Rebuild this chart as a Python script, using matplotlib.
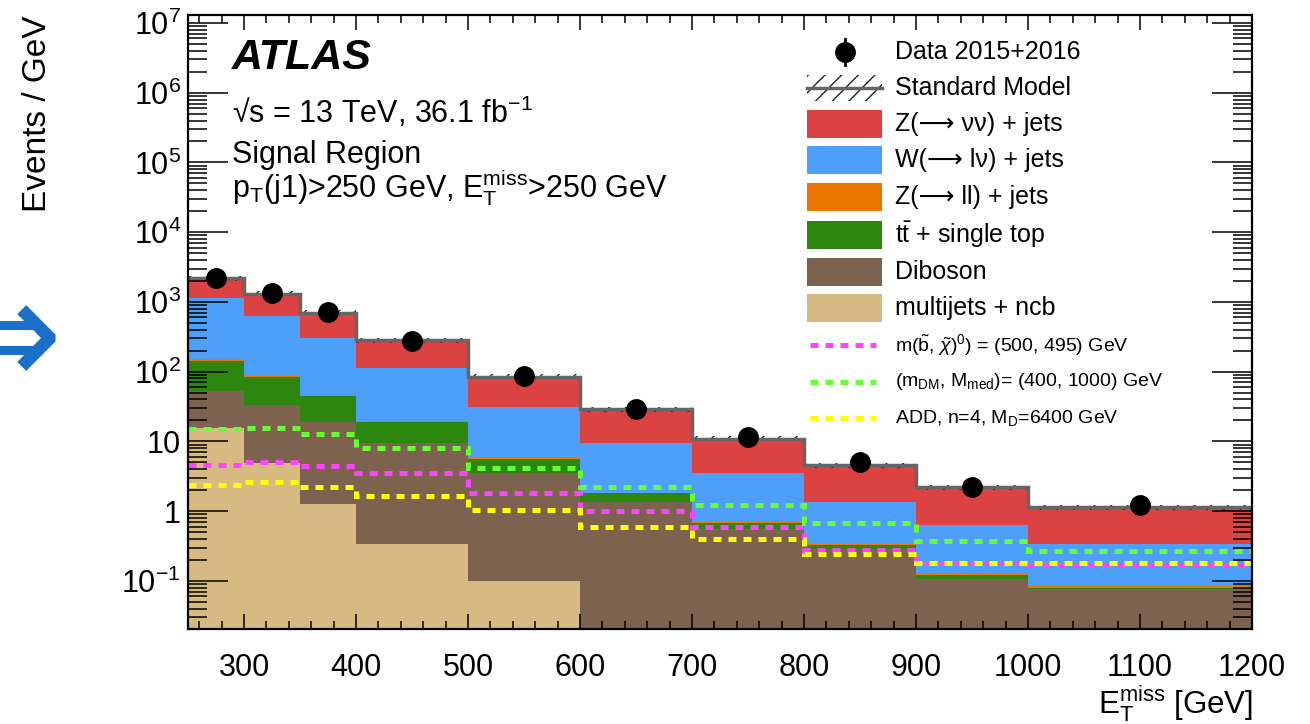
import numpy as np
import matplotlib
matplotlib.use("Agg")
import matplotlib.pyplot as plt
from matplotlib.patches import Rectangle
from matplotlib.ticker import FixedLocator, FuncFormatter

plt.rcParams["font.family"] = ["Liberation Sans", "DejaVu Sans"]
plt.rcParams["mathtext.fontset"] = "custom"
plt.rcParams["mathtext.rm"] = "Liberation Sans"
plt.rcParams["mathtext.it"] = "Liberation Sans:italic"
plt.rcParams["mathtext.bf"] = "Liberation Sans:bold"
plt.rcParams["hatch.linewidth"] = 1.0

# E_T^miss bins [GeV]
edges = [250, 300, 350, 400, 500, 600, 700, 800, 900, 1000, 1200]

# backgrounds, events / GeV (bottom of stack first)
multijet = [15.7, 4.9, 1.26, 0.333, 0.10, 0.01, 0.01, 0.01, 0.01, 0.01]
diboson = [36.8, 28.1, 17.8, 9.2, 3.37, 1.35, 0.536, 0.28, 0.098, 0.066]
top = [89, 50, 25.6, 9.6, 2.2, 0.44, 0.134, 0.035, 0.013, 0.004]
zll = [13, 2.6, 1.3, 0.5, 0.2, 0.05, 0.02, 0.008, 0.007, 0.005]
wlnu = [995, 544, 254, 95, 24.9, 7.5, 2.77, 1.0, 0.50, 0.25]
znunu = [1040, 690, 400, 169, 53.7, 19.4, 7.5, 3.24, 1.56, 0.81]
sm_unc = 0.08

data = [2210, 1360, 710, 277, 86, 28.8, 11.4, 5.0, 2.23, 1.22]

# signal benchmarks
sig_sbottom = [4.57, 5.1, 4.42, 3.47, 1.8, 1.0, 0.596, 0.275, 0.178, 0.168]
sig_dm = [14.9, 15.7, 12.6, 8.1, 4.18, 2.23, 1.22, 0.666, 0.371, 0.267]
sig_add = [2.34, 2.61, 2.21, 1.64, 1.03, 0.583, 0.397, 0.239, 0.178, 0.178]

bkg = [multijet, diboson, top, zll, wlnu, znunu]
bkg_colors = ["#d6ba82", "#7d6250", "#2d870f", "#ed7600", "#4d9ffa", "#dc4242"]
bkg_labels = ["multijets + ncb", "Diboson", r"t$\bar{\mathregular{t}}$ + single top",
              "Z(⟶ ll) + jets", "W(⟶ lν) + jets", "Z(⟶ νν) + jets"]
sig = [sig_sbottom, sig_dm, sig_add]
sig_colors = ["#ff44ff", "#66ff33", "#ffff00"]
sig_labels = [r"m($\tilde{\mathregular{b}}$, $\tilde{\chi}$)$^{\mathregular{0}}$) = (500, 495) GeV",
              r"(m$_{\mathregular{DM}}$, M$_{\mathregular{med}}$)= (400, 1000) GeV",
              r"ADD, n=4, M$_{\mathregular{D}}$=6400 GeV"]
dash = (0, (1.6, 1.4))

W, H = 1310, 724
fig = plt.figure(figsize=(W / 100, H / 100), dpi=100)
ax = fig.add_axes([188 / W, 1 - 629 / H, (1252 - 188) / W, (629 - 15) / H])

edges_a = np.array(edges, dtype=float)
centers = 0.5 * (edges_a[1:] + edges_a[:-1])
cum = np.cumsum(np.array(bkg), axis=0)
total = cum[-1]

# stack, drawn top-down so lower components sit on top
for i in range(len(bkg) - 1, -1, -1):
    ax.stairs(cum[i], edges_a, baseline=1e-4, fill=True, color=bkg_colors[i], lw=0)

ax.stairs(total * (1 + sm_unc), edges_a, baseline=total * (1 - sm_unc), fill=True,
          hatch="//", facecolor="none", edgecolor="#222222", lw=0)
ax.stairs(total, edges_a, baseline=None, color="#666666", lw=2.5)

for s, c in zip(sig, sig_colors):
    ax.stairs(s, edges_a, baseline=None, color=c, lw=3.6, linestyle=dash)

ax.plot(centers, data, "o", color="black", ms=14, zorder=5)

ax.set_yscale("log")
ax.set_xlim(250, 1200)
ax.set_ylim(10 ** -1.69, 10 ** 7.115)

ax.xaxis.set_major_locator(FixedLocator(np.arange(300, 1201, 100)))
ax.xaxis.set_minor_locator(FixedLocator(np.arange(260, 1200, 20)))
ax.yaxis.set_major_locator(FixedLocator([10.0 ** k for k in range(-1, 8)]))
ax.yaxis.set_minor_locator(FixedLocator([m * 10.0 ** k for k in range(-2, 7) for m in range(2, 10)]))


def ylab(v, pos):
    k = int(round(np.log10(v)))
    if k == 0:
        return "1"
    if k == 1:
        return "10"
    return r"$\mathregular{10^{%d}}$" % k


ax.yaxis.set_major_formatter(FuncFormatter(ylab))
ax.tick_params(which="both", direction="in", top=True, right=True, labelsize=22, width=1.1)
ax.xaxis.set_tick_params(which="major", length=11, pad=17)
ax.xaxis.set_tick_params(which="minor", length=5.8)
ax.yaxis.set_tick_params(which="major", length=29, pad=5)
ax.yaxis.set_tick_params(which="minor", length=14)
for sp in ax.spines.values():
    sp.set_linewidth(1.6)

# overlay in pixel coordinates for texts and legend
ov = fig.add_axes([0, 0, 1, 1])
ov.set_xlim(0, W)
ov.set_ylim(H, 0)
ov.axis("off")

ov.text(38, 15, "Events / GeV", rotation=90, ha="center", va="top", fontsize=24)
ov.text(1253, 714, r"E$_{\mathregular{T}}^{\mathregular{miss}}$ [GeV]", ha="right", va="baseline", fontsize=22.5)
ov.text(62, 344, "⇒", ha="right", va="center", fontsize=110, color="#1a6fc9", family="DejaVu Sans")

ov.text(232, 58, "ATLAS", fontsize=31, fontweight="bold", fontstyle="italic", va="center")
ov.text(232, 123, r"√s = 13 TeV, 36.1 fb$^{\mathregular{-1}}$", fontsize=22, va="baseline")
ov.text(232, 163, "Signal Region", fontsize=22, va="baseline")
ov.text(232, 198, r"p$_{\mathregular{T}}$(j1)>250 GeV, E$_{\mathregular{T}}^{\mathregular{miss}}$>250 GeV",
        fontsize=22, va="baseline")

# legend
bx, bw, tx = 807, 75, 895
ov.plot([845, 845], [39, 65], color="black", lw=2)
ov.plot(845, 52, "o", color="black", ms=14)
ov.text(tx, 52, "Data 2015+2016", fontsize=18, va="center")

ov.add_patch(Rectangle((bx, 75), bw, 26, facecolor="none", edgecolor="#222222", hatch="//", lw=0))
ov.plot([bx, bx + bw], [88, 88], color="#666666", lw=2.5)
ov.text(tx, 88, "Standard Model", fontsize=18, va="center")

leg_y = [124, 160, 197, 235, 272, 308]
for y, i in zip(leg_y, range(len(bkg) - 1, -1, -1)):
    ov.add_patch(Rectangle((bx, y - 14), bw, 28, facecolor=bkg_colors[i], lw=0))
    ov.text(tx, y, bkg_labels[i], fontsize=18, va="center")

for y, c, lab in zip([345, 382, 418], sig_colors, sig_labels):
    ov.plot([810, 876], [y, y], color=c, lw=3.6, linestyle=dash)
    ov.text(tx, y, lab, fontsize=14, va="center")

fig.savefig("out.png", dpi=100)
